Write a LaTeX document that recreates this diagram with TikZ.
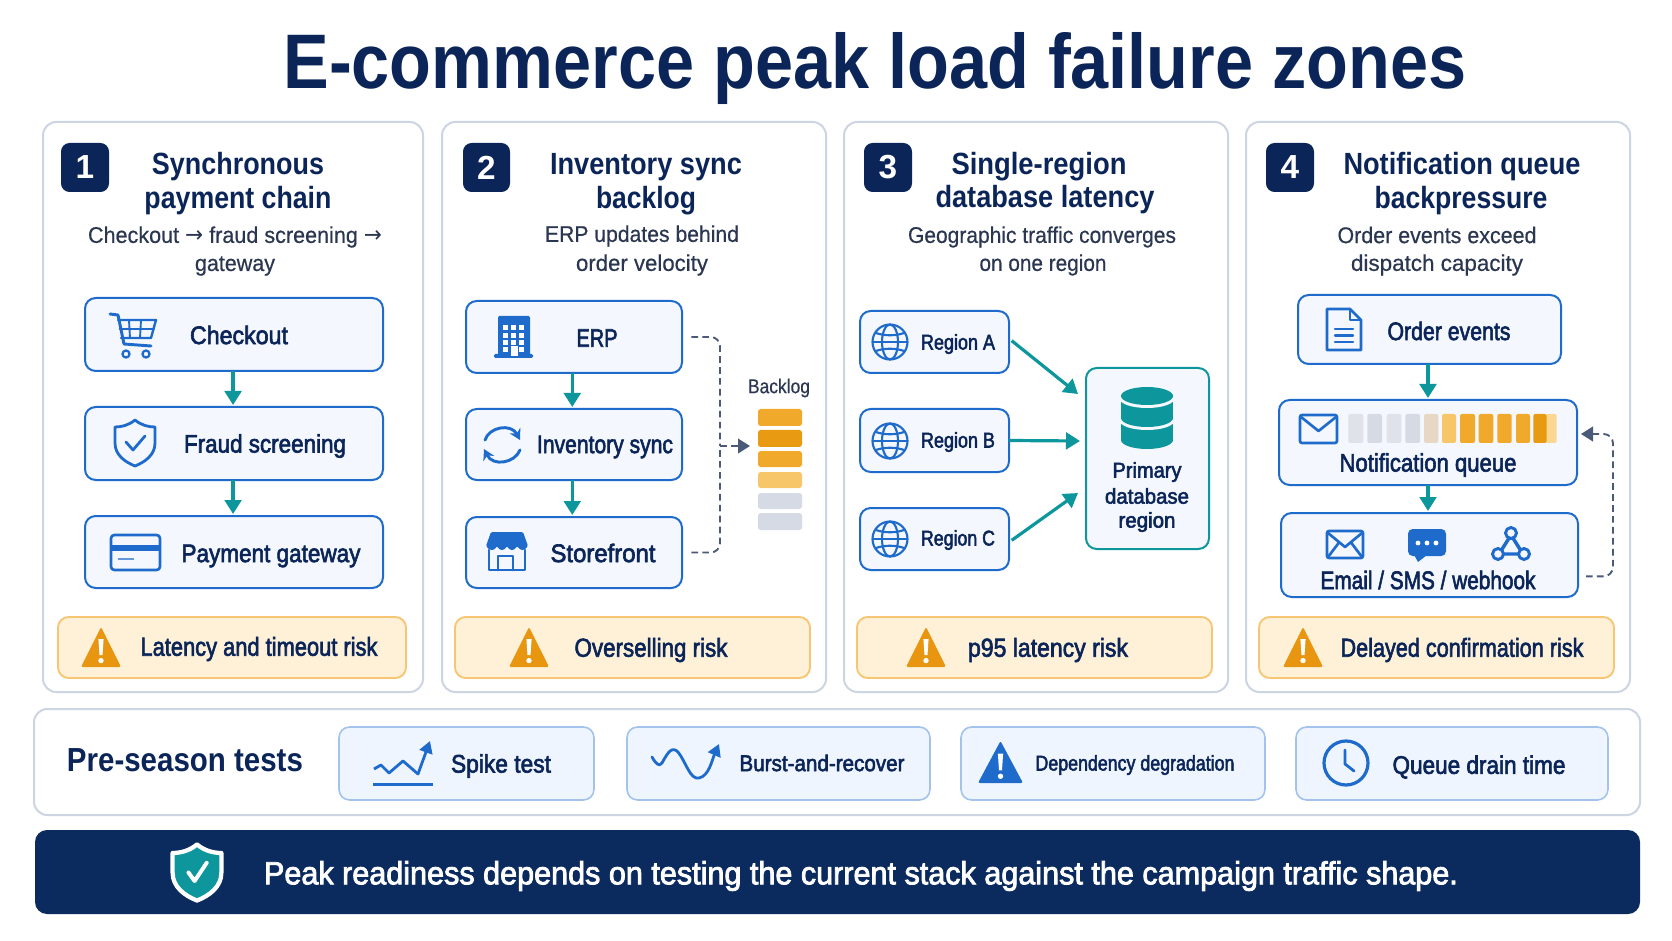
\documentclass[tikz,border=0pt]{standalone}
\usepackage{graphicx}
\usepackage{fontspec}
\usetikzlibrary{arrows.meta,calc}
\setmainfont{Liberation Sans}
\newfontfamily\medf[FakeBold=2.6]{Liberation Sans}
\newfontfamily\regf[FakeBold=0.5]{Liberation Sans}
\newfontfamily\dv{DejaVu Sans}
\definecolor{navy}{HTML}{0B2559}
\definecolor{bar}{HTML}{0B2A5E}
\definecolor{blu}{HTML}{1F6BCB}
\definecolor{lblu}{HTML}{A3C2EC}
\definecolor{teal}{HTML}{0D979D}
\definecolor{slate}{HTML}{2B3650}
\definecolor{dash}{HTML}{4A5A78}
\definecolor{cardline}{HTML}{CDD4E2}
\definecolor{tile}{HTML}{F4F8FE}
\definecolor{tile2}{HTML}{EFF5FE}
\definecolor{riskf}{HTML}{FEF1D8}
\definecolor{riskl}{HTML}{F8C672}
\definecolor{warnc}{HTML}{E8950F}
\definecolor{qa}{HTML}{DFE2E9}
\definecolor{qb}{HTML}{D5DAE4}
\definecolor{qt}{HTML}{E6D8C2}
\definecolor{ql}{HTML}{F6C669}
\definecolor{qo}{HTML}{F0A92A}
\definecolor{qd}{HTML}{E79A12}
\definecolor{qv}{HTML}{FBD892}
\newcommand\fw[2]{\pgfmathsetlengthmacro\fwd{#1*.75}\resizebox{\fwd}{\height}{#2}}
\newcommand\bx[6]{\pgfmathsetmacro\bw{(#5-#3)*.75}\pgfmathsetmacro\bh{(#6-#4)*.75}\node[#1,minimum width=\bw pt,minimum height=\bh pt] (#2) at ({(#3+#5)/2},{(#4+#6)/2}) {};}
% name, cx, cy, width, font, text
\newcommand\lab[6]{\node[txt] (#1) at (#2,#3) {\fw{#4}{#5#6}};}
\newcommand\ttlf{\fontsize{23}{26}\selectfont\bfseries\color{navy}}
\newcommand\subf{\fontsize{17}{20}\selectfont\regf\color{slate}}
\newcommand\boxf{\fontsize{19}{22}\selectfont\medf\color{navy}}
\newcommand\rgnf{\fontsize{16}{19}\selectfont\medf\color{navy}}
\newcommand\rskf{\fontsize{19.5}{23}\selectfont\medf\color{navy}}
\newcommand\warnsym[5]{% cx top bottom halfwidth colour
 \fill[#5,rounded corners=1.5pt] (#1,#2) -- (#1+#4,#3) -- (#1-#4,#3) -- cycle;
 \fill[white] (#1-2.6,#2+.30*#3-.30*#2) -- (#1+2.6,#2+.30*#3-.30*#2) -- (#1+1.5,#2+.70*#3-.70*#2) -- (#1-1.5,#2+.70*#3-.70*#2) -- cycle;
 \fill[white] (#1,#2+.84*#3-.84*#2) circle[radius=2.7];}
\newcommand\globe[2]{\begin{scope}[shift={(#1,#2)},draw=blu,line width=1.6pt]
 \draw (0,0) circle[radius=17.5];
 \draw (0,0) ellipse[x radius=8,y radius=17.5];
 \draw (-17.5,0) -- (17.5,0);
 \draw (-14,-9) .. controls (-6,-6) and (6,-6) .. (14,-9);
 \draw (-14,9) .. controls (-6,6) and (6,6) .. (14,9);
 \end{scope}}
\newcommand\shieldP{(0,-23) .. controls (6,-18) and (13,-16) .. (20,-16) -- (20,0) .. controls (20,12) and (10,19) .. (0,23) .. controls (-10,19) and (-20,12) .. (-20,0) -- (-20,-16) .. controls (-13,-16) and (-6,-18) .. (0,-23) -- cycle}
\tikzset{x=.75pt,y=-.75pt,
 card/.style={draw=cardline,fill=white,line width=1.5pt,rounded corners=10pt,inner sep=0,outer sep=0},
 badge/.style={fill=navy,rounded corners=6.5pt,inner sep=0,outer sep=0,text=white},
 tilebox/.style={draw=blu,fill=tile,line width=1.5pt,rounded corners=8pt,inner sep=0,outer sep=0},
 dbbox/.style={draw=teal,fill=tile,line width=1.5pt,rounded corners=8pt,inner sep=0,outer sep=0},
 testbox/.style={draw=lblu,fill=tile2,line width=1.2pt,rounded corners=8pt,inner sep=0,outer sep=0},
 riskbox/.style={draw=riskl,fill=riskf,line width=1.4pt,rounded corners=8pt,inner sep=0,outer sep=0},
 txt/.style={inner sep=0,outer sep=0,anchor=center},
 flow/.style={draw=teal,line width=2.4pt,-{Triangle[length=10.5pt,width=12.5pt]},shorten >=1.5pt},
 dashcon/.style={draw=dash,line width=1.4pt,dash pattern=on 5pt off 3.2pt,rounded corners=7pt},
 dashhead/.style={draw=dash,line width=1.4pt,dash pattern=on 5pt off 3.2pt,-{Triangle[length=9pt,width=11pt,fill=dash,sep=0pt]},rounded corners=7pt},
 ico/.style={draw=blu,line width=2.2pt,line join=round,line cap=round},
}
\begin{document}
\begin{tikzpicture}
\useasboundingbox (0,0) rectangle (1672,941);
\fill[white] (0,0) rectangle (1672,941);
\node[txt] (maintitle) at (875,69) {\fw{1183}{\fontsize{58}{66}\selectfont\bfseries\color{navy}E-commerce peak load failure zones}};
% cards
\bx{card}{c1}{43}{122}{423}{692}
\bx{card}{c2}{442}{122}{826}{692}
\bx{card}{c3}{844}{122}{1228}{692}
\bx{card}{c4}{1246}{122}{1630}{692}
% badges
\bx{badge}{b1}{61}{143}{109}{192}
\bx{badge}{b2}{463}{143}{510}{192}
\bx{badge}{b3}{864}{143}{912}{192}
\bx{badge}{b4}{1266}{143}{1314}{192}
\foreach \n/\t in {b1/1,b2/2,b3/3,b4/4}{\node[txt,text=white,font=\fontsize{25}{28}\selectfont\bfseries] (\n t) at (\n) {\t};}
% titles
\lab{t1a}{238}{167}{172}{\ttlf}{Synchronous}
\lab{t1b}{238}{201}{187}{\ttlf}{payment chain}
\lab{t2a}{646}{167}{192}{\ttlf}{Inventory sync}
\lab{t2b}{646}{201}{100}{\ttlf}{backlog}
\lab{t3a}{1039}{167}{175}{\ttlf}{Single-region}
\lab{t3b}{1045}{200}{219}{\ttlf}{database latency}
\lab{t4a}{1462}{167}{237}{\ttlf}{Notification queue}
\lab{t4b}{1461}{201}{173}{\ttlf}{backpressure}
% subtitles
\lab{s1a}{235}{237}{294}{\subf}{Checkout {\dv→} fraud screening {\dv→}}
\lab{s1b}{235}{266}{80}{\subf}{gateway}
\lab{s2a}{642}{236}{194}{\subf}{ERP updates behind}
\lab{s2b}{642}{265}{132}{\subf}{order velocity}
\lab{s3a}{1042}{237}{268}{\subf}{Geographic traffic converges}
\lab{s3b}{1043}{265}{127}{\subf}{on one region}
\lab{s4a}{1437}{235}{199}{\subf}{Order events exceed}
\lab{s4b}{1437}{265}{172}{\subf}{dispatch capacity}
% risk strips
\bx{riskbox}{r1}{58}{617}{406}{678}
\bx{riskbox}{r2}{455}{617}{810}{678}
\bx{riskbox}{r3}{857}{617}{1212}{678}
\bx{riskbox}{r4}{1259}{617}{1614}{678}
\warnsym{101}{627}{667}{20}{warnc}
\warnsym{529}{627}{667}{20}{warnc}
\warnsym{926}{627}{667}{20}{warnc}
\warnsym{1303}{627}{667}{20}{warnc}
\lab{r1t}{259}{649}{237}{\rskf}{Latency and timeout risk}
\lab{r2t}{651}{650}{153}{\rskf}{Overselling risk}
\lab{r3t}{1048}{650}{160}{\rskf}{p95 latency risk}
\lab{r4t}{1462}{650}{243}{\rskf}{Delayed confirmation risk}
% card 1
\bx{tilebox}{chk}{85}{298}{383}{371}
\bx{tilebox}{frd}{85}{407}{383}{480}
\bx{tilebox}{pay}{85}{516}{383}{588}
\draw[flow] ([xshift=-.7pt]chk.south) -- ([xshift=-.7pt]frd.north);
\draw[flow] ([xshift=-.7pt]frd.south) -- ([xshift=-.7pt]pay.north);
\lab{chkt}{239}{335}{98}{\boxf}{Checkout}
\lab{frdt}{265}{446}{162}{\boxf}{Fraud screening}
\lab{payt}{271}{556}{179}{\boxf}{Payment gateway}
% cart
\draw[ico] (110,314) -- (118,315) -- (124,344) -- (151,346);
\draw[ico,line width=1.8pt] (118,320) -- (156,320) -- (151,338) -- (121,338);
\draw[ico,line width=1.4pt] (129,320) -- (130,338) (141,320) -- (140,338) (119.5,329) -- (154,329);
\draw[ico,line width=1.7pt] (126,354) circle[radius=3.5] (146,354) circle[radius=3.5];
% shield
\begin{scope}[shift={(135,443)}]
\draw[ico,line width=2.1pt] \shieldP;
\draw[draw=blu,line width=2.1pt,line cap=round,line join=round] (-9,-1) -- (-2,7) -- (10,-7);
\end{scope}
% credit card
\draw[ico,line width=2pt,rounded corners=2.5pt] (111,535) rectangle (160,570);
\fill[blu] (111,545) rectangle (160,551);
\draw[draw=blu!70,line width=1.7pt] (118,559) -- (134,559);
% card 2
\bx{tilebox}{erp}{466}{301}{682}{373}
\bx{tilebox}{inv}{466}{409}{682}{480}
\bx{tilebox}{sto}{466}{517}{682}{588}
\draw[flow] ([xshift=-1.3pt]erp.south) -- ([xshift=-1.3pt]inv.north);
\draw[flow] ([xshift=-1.3pt]inv.south) -- ([xshift=-1.3pt]sto.north);
\lab{erpt}{597}{338}{41}{\boxf}{ERP}
\lab{invt}{605}{447}{136}{\boxf}{Inventory sync}
\lab{stot}{603}{553}{105}{\boxf}{Storefront}
% building
\fill[blu,rounded corners=1pt] (498,316) rectangle (530,356);
\fill[blu,rounded corners=1pt] (494,354) rectangle (533,358);
\foreach \wx in {503,511,519}{\foreach \wy in {325,333,340}{\fill[white] (\wx,\wy) rectangle +(5,5);}}
\foreach \wx in {503,519}{\fill[white] (\wx,347) rectangle +(5,5);}
\fill[white] (510.5,346) rectangle (517.5,356);
% sync
\draw[ico,-{Stealth[length=8pt,width=9pt]}] (485,440) .. controls (489,427) and (511,423) .. (520,440);
\draw[ico,-{Stealth[length=8pt,width=9pt]}] (520,450) .. controls (515,463) and (493,467) .. (484,449);
% store
\fill[blu,rounded corners=1pt] (491,532) -- (523,532) -- (528,546) .. controls (524,551) and (521,551) .. (517,546) .. controls (514,551) and (510,551) .. (507,546) .. controls (504,551) and (500,551) .. (497,546) .. controls (494,551) and (490,551) .. (486,546) -- cycle;
\draw[ico,line width=2pt] (489,550) -- (489,570) -- (525,570) -- (525,550);
\draw[ico,line width=2pt] (498,570) -- (498,556) -- (513,556) -- (513,570);
% backlog
\lab{blgt}{779}{388}{62}{\fontsize{15}{18}\selectfont\regf\color{slate}}{Backlog}
\foreach \n/\ya/\yb/\col in {q1/409/426/qo,q2/430/447/qd,q3/451/467/qo,q4/472/488/ql,q5/493/509/qb,q6/513/530/qb}{
 \bx{fill=\col,rounded corners=2pt,inner sep=0,outer sep=0}{\n}{758}{\ya}{802}{\yb}}
\coordinate (mrg) at (720,446);
\coordinate (blgin) at (750,446);
\draw[dashcon] ([xshift=7pt]erp.east) -| (mrg);
\draw[dashcon] ([xshift=7pt]sto.east) -| (mrg);
\draw[dashhead] (mrg) -- (blgin);
% card 3
\bx{tilebox}{rga}{860}{311}{1009}{373}
\bx{tilebox}{rgb}{860}{409}{1009}{472}
\bx{tilebox}{rgc}{860}{508}{1009}{570}
\bx{dbbox}{prm}{1086}{368}{1209}{549}
\globe{890}{342}\globe{890}{441}\globe{890}{539}
\lab{rgat}{958}{344}{74}{\rgnf}{Region A}
\lab{rgbt}{958}{442}{74}{\rgnf}{Region B}
\lab{rgct}{958}{540}{74}{\rgnf}{Region C}
\lab{prma}{1147}{472}{69}{\rgnf}{Primary}
\lab{prmb}{1147}{496}{84}{\rgnf}{database}
\lab{prmc}{1147}{522}{57}{\rgnf}{region}
\coordinate (pa) at (1078,394);
\coordinate (pb) at (1080,441);
\coordinate (pc) at (1078,493);
\draw[flow,shorten >=0pt] ([xshift=2pt,yshift=1pt]rga.east) -- (pa);
\draw[flow,shorten >=0pt] (rgb.east) -- (pb);
\draw[flow,shorten >=0pt] ([xshift=2pt,yshift=-1pt]rgc.east) -- (pc);
% database
\fill[teal] (1147,440) ellipse[x radius=26,y radius=9];
\fill[teal] (1121,424) rectangle (1173,440);
\fill[tile] (1147,421) ellipse[x radius=27,y radius=9];
\fill[teal] (1147,418) ellipse[x radius=26,y radius=9];
\fill[teal] (1121,402) rectangle (1173,418);
\fill[tile] (1147,399) ellipse[x radius=27,y radius=9];
\fill[teal] (1147,396) ellipse[x radius=26,y radius=9];
% card 4
\bx{tilebox}{ord}{1298}{295}{1561}{364}
\bx{tilebox}{ntf}{1279}{400}{1577}{485}
\bx{tilebox}{eml}{1281}{513}{1578}{597}
\draw[flow] (ord.south -| ntf.south) -- (ntf.north);
\draw[flow] (ntf.south) -- (ntf.south |- eml.north);
\lab{ordt}{1449}{331}{123}{\boxf}{Order events}
\lab{ntft}{1428}{465}{177}{\boxf}{Notification queue}
\lab{emlt}{1428}{580}{215}{\boxf}{Email / SMS / webhook}
% doc
\draw[ico,line width=2pt] (1327,309) -- (1350,309) -- (1361,320) -- (1361,350) -- (1327,350) -- cycle;
\draw[ico,line width=1.6pt] (1350,309) -- (1350,320) -- (1361,320);
\draw[ico,line width=1.7pt] (1335,329) -- (1353,329) (1335,335.5) -- (1353,335.5) (1335,342) -- (1353,342);
% envelope
\draw[ico,line width=2pt,rounded corners=1.5pt] (1300,415) rectangle (1337,443);
\draw[ico,line width=2pt] (1301,417) -- (1318.5,431) -- (1336,417);
\foreach \n/\xa/\xb/\col in {qc1/1348.3/1363.3/qa,qc2/1367.3/1382/qb,qc3/1386.7/1401.3/qa,qc4/1405.3/1420/qb,qc5/1424/1438.3/qt,qc6/1442/1456/ql,qc7/1460/1475/qo,qc8/1478.7/1493.3/qo,qc9/1497.3/1511.7/qo,qc10/1516/1530/qo,qc12/1546/1556.7/qv,qc11/1533.3/1546.7/qd}{
 \bx{fill=\col,rounded corners=1.5pt,inner sep=0,outer sep=0}{\n}{\xa}{414}{\xb}{443}}
% email
\draw[ico,line width=2pt,rounded corners=1.5pt] (1327,531) rectangle (1363,558);
\draw[ico,line width=2pt] (1328,533) -- (1345,547) -- (1362,533) (1328,557) -- (1339,542.5) (1362,557) -- (1351,542.5);
% chat
\fill[blu,rounded corners=3.5pt] (1408,529) rectangle (1446,556);
\fill[blu] (1413,553) -- (1418,562) -- (1427,555) -- cycle;
\foreach \dx in {1418,1427,1436}{\fill[white] (\dx,543) circle[radius=2.4];}
% webhook
\draw[ico,line width=2.6pt] (1511,535) -- (1499,554) -- (1523,554) -- cycle;
\draw[ico,fill=tile,line width=2.2pt] (1511,533) circle[radius=5.5] (1498,554) circle[radius=5.5] (1524,554) circle[radius=5.5];
\coordinate (fbk) at (1613,434);
\draw[dashhead] ([xshift=6pt,yshift=-16pt]eml.east) -| (fbk) -- ([xshift=3pt]ntf.east |- fbk);
% test panel
\bx{card}{tst}{34}{709}{1640}{815}
\lab{tstt}{185}{760}{236}{\fontsize{25}{29}\selectfont\bfseries\color{navy}}{Pre-season tests}
\bx{testbox}{tsa}{339}{727}{594}{800}
\bx{testbox}{tsb}{627}{727}{930}{800}
\bx{testbox}{tsc}{961}{727}{1265}{800}
\bx{testbox}{tsd}{1296}{727}{1608}{800}
\lab{tsat}{501}{766}{100}{\boxf}{Spike test}
\lab{tsbt}{822}{763}{165}{\fontsize{17}{20}\selectfont\medf\color{navy}}{Burst-and-recover}
\lab{tsct}{1135}{765}{199}{\fontsize{16}{19}\selectfont\medf\color{navy}}{Dependency degradation}
\lab{tsdt}{1479}{767}{173}{\boxf}{Queue drain time}
% spike icon
\fill[blu] (373,782.5) rectangle (433,786);
\draw[ico,line width=2.1pt,line cap=butt,-{Triangle[length=9pt,width=10pt]}] (374,769) -- (381,765) -- (389,773) -- (403,761) -- (418,774) -- (430,741);
% burst icon
\draw[ico,line width=2.1pt,-{Triangle[length=9pt,width=10pt]}] (652,757) .. controls (656,764) and (659,767) .. (662,763) .. controls (668,752) and (672,746) .. (678,752) .. controls (686,762) and (690,780) .. (699,778) .. controls (709,776) and (712,760) .. (719,744);
% dep icon
\warnsym{1000.5}{741}{783}{22.5}{blu}
% clock
\draw[ico,line width=2.4pt] (1346,763) circle[radius=22];
\draw[ico,line width=2.1pt] (1345,750) -- (1345,764) -- (1354,771);
% footer
\bx{fill=bar,rounded corners=9pt,inner sep=0,outer sep=0}{ftr}{35}{830}{1640}{914}
\begin{scope}[shift={(197,872.5)},scale=1.22]
\fill[teal,draw=white,line width=3.2pt,line join=round] \shieldP;
\draw[white,line width=3pt,line cap=round,line join=round] (-7,0) -- (-2,7) -- (8,-8);
\end{scope}
\lab{ftrt}{861}{876}{1194}{\fontsize{24}{28}\selectfont\medf\color{white}}{Peak readiness depends on testing the current stack against the campaign traffic shape.}
\end{tikzpicture}
\end{document}
